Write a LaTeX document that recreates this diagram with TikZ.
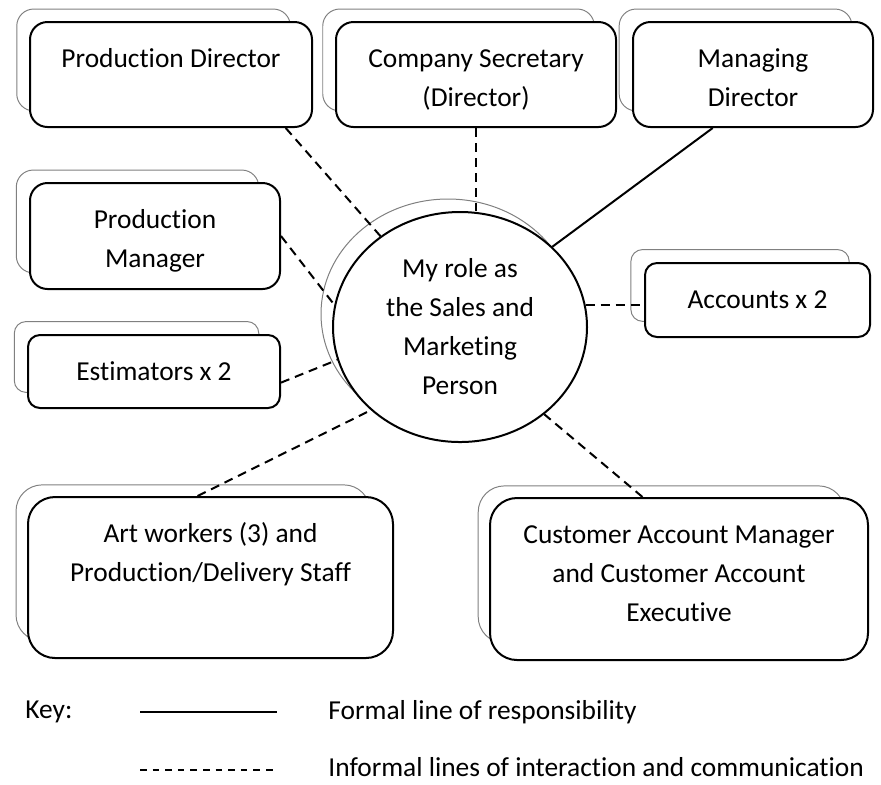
\documentclass[tikz,border=0pt]{standalone}
\usepackage{fontspec}
\setmainfont{Carlito}[Ligatures=NoCommon]
\usetikzlibrary{shapes,arrows,calc,shadows}
\tikzstyle{block} = [draw, line width=1pt, fill=white, rectangle, inner sep=0pt,
    copy shadow={shadow xshift=-9pt, shadow yshift=7.5pt, shadow scale=0.97, draw=black!50, line width=0.5pt}]
\tikzstyle{role} = [draw, line width=1pt, fill=white, ellipse, inner sep=0pt, align=center,
    minimum width=127pt, minimum height=115pt,
    copy shadow={shadow xshift=-6pt, shadow yshift=6.5pt, draw=black!50, line width=0.5pt}]
\tikzstyle{formal} = [line width=1pt]
\tikzstyle{informal} = [line width=1pt, dash pattern=on 4.5pt off 3pt]
\newcommand{\blocktext}[3]{\parbox[c][#2][t]{#1}{\centering\rule{0pt}{22.5pt}#3}}

\begin{document}
\begin{tikzpicture}[x=0.5pt, y=-0.5pt, font=\fontsize{13.7}{19.5}\selectfont]
\useasboundingbox (0,0) rectangle (881,784);

%% Central role %%
\node [role] (MyRole) at (460,327) {My role as\\the Sales and\\Marketing\\Person};

%% Directors %%
\node [block, rounded corners=8.75pt] (ProductionDirector) at (171,74.5) {\blocktext{141pt}{52.5pt}{Production Director}};
\node [block, rounded corners=8.75pt] (CompanySecretary) at ($(ProductionDirector)+(305,0)$) {\blocktext{140pt}{52.5pt}{Company Secretary\\(Director)}};
\node [block, rounded corners=8.75pt] (ManagingDirector) at ($(CompanySecretary)+(277,0)$) {\blocktext{120pt}{52.5pt}{Managing\\Director}};

%% Staff %%
\node [block, rounded corners=8.75pt] (ProductionManager) at (155,236) {\blocktext{125pt}{53pt}{Production\\Manager}};
\node [block, rounded corners=6pt] (Estimators) at ($(ProductionManager)+(-1,135.5)$) {\blocktext{126pt}{36.5pt}{Estimators x 2}};
\node [block, rounded corners=6pt] (Accounts) at (757.5,300) {\blocktext{112.5pt}{37pt}{Accounts x 2}};
\node [block, rounded corners=13.5pt] (ArtWorkers) at (210.5,577.5) {\blocktext{182.5pt}{80.5pt}{Art workers (3) and\\Production/Delivery Staff}};
\node [block, rounded corners=13.5pt] (CustomerAccount) at ($(ArtWorkers)+(468.5,1.5)$) {\blocktext{189pt}{81pt}{Customer Account Manager\\and Customer Account\\Executive}};

%% Lines %%
\draw [formal] (ManagingDirector.233) -- (MyRole.41);
\draw [informal] (ProductionDirector.-25) -- (MyRole);
\draw [informal] (CompanySecretary.south) -- (CompanySecretary.south |- MyRole.north);
\draw [informal] (ProductionManager.east) -- (MyRole.170);
\draw [informal] (Estimators.-5) -- (MyRole.195);
\draw [informal] (MyRole.10) -- (MyRole.10 -| Accounts.west);
\draw [informal] (ArtWorkers.99) -- (MyRole.223);
\draw [informal] (CustomerAccount.114) -- (MyRole.314);

%% Key %%
\node [anchor=base west, inner sep=0pt] (Key) at (25,718.5) {Key:};
\node [anchor=base west, inner sep=0pt] (FormalText) at (328,719.5) {Formal line of responsibility};
\node [anchor=base west, inner sep=0pt] (InformalText) at (328,776) {Informal lines of interaction and communication};
\coordinate (FormalStart) at (140,712);
\coordinate (FormalEnd) at (277,712);
\coordinate (InformalStart) at (140,770);
\coordinate (InformalEnd) at (277,770);
\draw [line width=0.6pt] (FormalStart) -- (FormalEnd);
\draw [line width=0.6pt, dash pattern=on 3.3pt off 3pt] (InformalStart) -- (InformalEnd);

\end{tikzpicture}
\end{document}
